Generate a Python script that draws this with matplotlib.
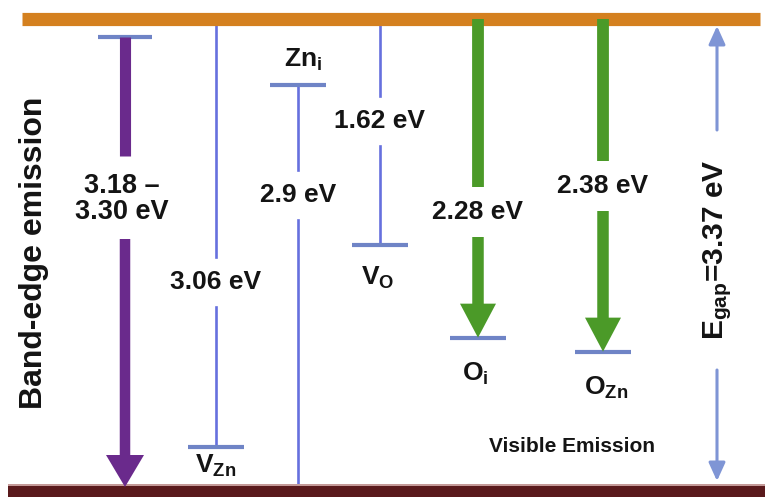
import matplotlib
matplotlib.use("Agg")
import matplotlib.pyplot as plt
from matplotlib.patches import FancyArrow

plt.rcParams["font.family"] = ["Liberation Sans", "DejaVu Sans"]
plt.rcParams["font.weight"] = "bold"
plt.rcParams["mathtext.fontset"] = "custom"
plt.rcParams["mathtext.rm"] = "Liberation Sans:bold"
plt.rcParams["mathtext.bf"] = "Liberation Sans:bold"
plt.rcParams["mathtext.it"] = "Liberation Sans:bold"

# ---- data (eV) ----
E_gap = 3.37
band_edge_range = [3.18, 3.30]
defect_names = ["V_Zn", "Zn_i", "V_O", "O_i", "O_Zn"]
defect_labels = [r"$\mathbf{V}_{\mathbf{Zn}}$", r"$\mathbf{Zn}_{\mathbf{i}}$",
                 r"$\mathbf{V}_{\mathbf{O}}$", r"$\mathbf{O}_{\mathbf{i}}$",
                 r"$\mathbf{O}_{\mathbf{Zn}}$"]
transition_eV = [3.06, 2.9, 1.62, 2.28, 2.38]
# "cb": transition measured down from conduction band; "vb": level height above valence band
reference = ["cb", "vb", "cb", "cb", "cb"]

# ---- layout (horizontal positions in figure pixels) ----
W, H = 765, 497
y_vb_px, y_cb_px = 490, 19
scale = (y_vb_px - y_cb_px) / E_gap          # px per eV


def ev(px):
    """vertical pixel position -> energy coordinate"""
    return (y_vb_px - px) / scale


def pxlen(n):
    return n / scale


fig = plt.figure(figsize=(W / 100, H / 100), dpi=100)
ax = fig.add_axes([0, 0, 1, 1])
ax.set_xlim(0, W)
ax.set_ylim(ev(H), ev(0))
ax.axis("off")

blue = "#6670DE"
tick_blue = "#6F84C6"
green = "#4B9A28"
purple = "#6A2A8C"
orange = "#D4801F"
gap_blue = "#7F95D5"
txt = "#141414"

# conduction band / valence band
ax.plot([22, 760], [E_gap, E_gap], color=orange, lw=9.5, solid_capstyle="butt", zorder=3)
ax.axhspan(ev(H), ev(486), xmin=8 / W, xmax=1, color="#5A1A1C", lw=0, zorder=3)
ax.axhspan(ev(486), ev(483.5), xmin=8 / W, xmax=1, color="#C49A98", lw=0, zorder=3)

# ---- band-edge emission ----
be_x = 125
be_top = sum(band_edge_range) / 2
ax.plot([be_x - 27, be_x + 27], [be_top, be_top], color=tick_blue, lw=3, solid_capstyle="butt", zorder=4)
be_lab_y = 199
ax.plot([be_x, be_x], [be_top, ev(be_lab_y - 43)], color=purple, lw=8, solid_capstyle="butt", zorder=4)
ax.add_patch(FancyArrow(be_x, ev(be_lab_y + 40), 0, -(ev(be_lab_y + 40) - ev(487)),
                        width=10.5, head_width=38, head_length=pxlen(32),
                        length_includes_head=True, color=purple, lw=0, zorder=4))
ax.text(be_x - 3, ev(be_lab_y),
        f"{band_edge_range[0]:.2f} –\n{band_edge_range[1]:.2f} eV",
        ha="center", va="center", fontsize=19.5, color=txt, linespacing=1.0, zorder=5)

# ---- defect transitions ----
xs = [216, 298, 380, 478, 603]
label_y_px = [282, 195, 121, 212, 186]
name_pos_px = [(216, 466), (303, 60), (378, 278), (475, 374), (606, 388)]
arrowed = [False, False, False, True, True]
half_gap = 25

for name, lab, e, ref, x, ly, (nx, ny), arr in zip(
        defect_names, defect_labels, transition_eV, reference, xs,
        label_y_px, name_pos_px, arrowed):
    if ref == "cb":
        level = E_gap - e
        start, end = E_gap, level
    else:
        level = e
        start, end = level, 0.0
    # level marker
    ax.plot([x - 28, x + 28], [level, level], color=tick_blue, lw=3,
            solid_capstyle="butt", zorder=4)
    upper_end = ev(ly - half_gap)
    lower_start = ev(ly + half_gap)
    if arr:
        ax.plot([x, x], [start, upper_end], color=green, lw=8.5,
                solid_capstyle="butt", zorder=4)
        ax.add_patch(FancyArrow(x, lower_start, 0, end - lower_start,
                                width=11.5, head_width=36, head_length=pxlen(34),
                                length_includes_head=True, color=green, lw=0, zorder=4))
    else:
        ax.plot([x, x], [start, upper_end], color=blue, lw=1.9, zorder=2)
        ax.plot([x, x], [lower_start, end], color=blue, lw=1.9, zorder=2)
    ax.text(x, ev(ly), f"{e:g} eV", ha="center", va="center",
            fontsize=19, color=txt, zorder=5)
    ax.text(nx, ev(ny), lab, ha="center", va="center", fontsize=19, color=txt, zorder=5)

# ---- band gap arrow ----
gx = 717
ax.annotate("", xy=(gx, ev(26)), xytext=(gx, ev(130)),
            arrowprops=dict(arrowstyle="-|>,head_length=1.1,head_width=0.5",
                            color=gap_blue, lw=2.2, shrinkA=0, shrinkB=0), zorder=4)
ax.annotate("", xy=(gx, ev(481)), xytext=(gx, ev(370)),
            arrowprops=dict(arrowstyle="-|>,head_length=1.1,head_width=0.5",
                            color=gap_blue, lw=2.2, shrinkA=0, shrinkB=0), zorder=4)
ax.text(gx + 1, ev(250), r"$\mathbf{E}_{\mathbf{gap}}$" + f"={E_gap:.2f} eV",
        rotation=90, ha="center", va="center", fontsize=21.5, color=txt, zorder=5)

# ---- side annotations ----
ax.text(34, ev(253), "Band-edge emission", rotation=90, ha="center", va="center",
        fontsize=23, color=txt, zorder=5)
ax.text(572, ev(447), "Visible Emission", ha="center", va="center",
        fontsize=15, color=txt, zorder=5)

fig.savefig("out.png", dpi=100, facecolor="white")
